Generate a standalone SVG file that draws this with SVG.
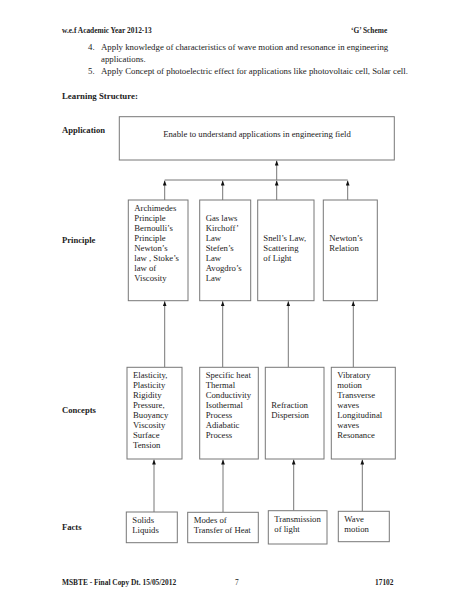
<svg xmlns="http://www.w3.org/2000/svg" width="474" height="613" viewBox="0 0 474 613">
<defs>
<marker id="ah" viewBox="0 0 8 6" refX="8" refY="3" markerWidth="5" markerHeight="4" orient="auto" markerUnits="userSpaceOnUse">
<path d="M0,0 L8,3 L0,6 Z" fill="#111"/>
</marker>
</defs>
<style>
text{font-family:"Liberation Serif","Times New Roman",serif;fill:#222;}
.b{font-weight:bold;}
.hd{font-size:7.4px;}
.body{font-size:8.8px;}
.lab{font-size:8.6px;font-weight:bold;}
.t{font-size:8.7px;}
.box{fill:#fff;stroke:#777;stroke-width:1;}
.ln{stroke:#777;stroke-width:1;fill:none;}
.ar{stroke:#777;stroke-width:1;fill:none;marker-end:url(#ah);}
</style>
<rect width="474" height="613" fill="#fff"/>
<g id="header">
<text class="hd b" x="62" y="33">w.e.f Academic Year 2012-13</text>
<text class="hd b" x="351" y="33">‘G’ Scheme</text>
<text class="body" x="88" y="50">4.</text>
<text class="body" x="101" y="50">Apply knowledge of characteristics of wave motion and resonance in engineering</text>
<text class="body" x="101" y="62">applications.</text>
<text class="body" x="88" y="74">5.</text>
<text class="body" x="101" y="74">Apply Concept of photoelectric effect for applications like photovoltaic cell, Solar cell.</text>
<text class="body b" x="62" y="99">Learning Structure:</text>
</g>
<g id="labels">
<text class="lab" x="62" y="133">Application</text>
<text class="lab" x="62" y="243">Principle</text>
<text class="lab" x="62" y="413">Concepts</text>
<text class="lab" x="62" y="530">Facts</text>
</g>
<g id="connectors">
<line class="ar" x1="276.7" y1="180" x2="276.7" y2="160.5"/>
<line class="ln" x1="164.7" y1="180" x2="347.7" y2="180"/>
<line class="ar" x1="164.7" y1="200" x2="164.7" y2="180.5"/>
<line class="ar" x1="222.7" y1="200" x2="222.7" y2="180.5"/>
<line class="ar" x1="276.7" y1="200" x2="276.7" y2="180.5"/>
<line class="ar" x1="347.7" y1="200" x2="347.7" y2="180.5"/>
<line class="ar" x1="164.7" y1="367" x2="164.7" y2="301.2"/>
<line class="ar" x1="222.7" y1="367" x2="222.7" y2="301.2"/>
<line class="ar" x1="288.3" y1="367" x2="288.3" y2="301.2"/>
<line class="ar" x1="353.3" y1="367" x2="353.3" y2="301.2"/>
<line class="ar" x1="154" y1="512" x2="154" y2="459.5"/>
<line class="ar" x1="223" y1="512" x2="223" y2="459.5"/>
<line class="ar" x1="293.7" y1="510.7" x2="293.7" y2="459.5"/>
<line class="ar" x1="362.3" y1="511.3" x2="362.3" y2="459.5"/>
</g>
<g id="app">
<rect class="box" x="119.3" y="116.7" width="275" height="43.3"/>
<text class="t" x="257" y="137" text-anchor="middle">Enable to understand applications in engineering field</text>
</g>
<g id="p1">
<rect class="box" x="128.3" y="200" width="59.7" height="100.7"/>
<text class="t" x="134.3" y="210.7">Archimedes</text>
<text class="t" x="134.3" y="220.7">Principle</text>
<text class="t" x="134.3" y="230.7">Bernoulli’s</text>
<text class="t" x="134.3" y="240.7">Principle</text>
<text class="t" x="134.3" y="250.7">Newton’s</text>
<text class="t" x="134.3" y="260.7">law , Stoke’s</text>
<text class="t" x="134.3" y="270.7">law of</text>
<text class="t" x="134.3" y="280.7">Viscosity</text>
</g>
<g id="p2">
<rect class="box" x="199.7" y="200" width="51" height="100.7"/>
<text class="t" x="205.7" y="220.7">Gas laws</text>
<text class="t" x="205.7" y="230.7">Kirchoff’</text>
<text class="t" x="205.7" y="240.7">Law</text>
<text class="t" x="205.7" y="250.7">Stefen’s</text>
<text class="t" x="205.7" y="260.7">Law</text>
<text class="t" x="205.7" y="270.7">Avogdro’s</text>
<text class="t" x="205.7" y="280.7">Law</text>
</g>
<g id="p3">
<rect class="box" x="257.7" y="200" width="56.3" height="100.7"/>
<text class="t" x="263.3" y="240.7">Snell’s Law,</text>
<text class="t" x="263.3" y="250.7">Scattering</text>
<text class="t" x="263.3" y="260.7">of Light</text>
</g>
<g id="p4">
<rect class="box" x="323.3" y="200" width="54" height="100.7"/>
<text class="t" x="329.3" y="240.7">Newton’s</text>
<text class="t" x="329.3" y="250.7">Relation</text>
</g>
<g id="c1">
<rect class="box" x="127" y="367.3" width="55" height="91.7"/>
<text class="t" x="133" y="378.3">Elasticity,</text>
<text class="t" x="133" y="388.3">Plasticity</text>
<text class="t" x="133" y="398.3">Rigidity</text>
<text class="t" x="133" y="408.3">Pressure,</text>
<text class="t" x="133" y="418.3">Buoyancy</text>
<text class="t" x="133" y="428.3">Viscosity</text>
<text class="t" x="133" y="438.3">Surface</text>
<text class="t" x="133" y="448.3">Tension</text>
</g>
<g id="c2">
<rect class="box" x="199.7" y="367.3" width="58.6" height="91.7"/>
<text class="t" x="205.7" y="378.3">Specific heat</text>
<text class="t" x="205.7" y="388.3">Thermal</text>
<text class="t" x="205.7" y="398.3">Conductivity</text>
<text class="t" x="205.7" y="408.3">Isothermal</text>
<text class="t" x="205.7" y="418.3">Process</text>
<text class="t" x="205.7" y="428.3">Adiabatic</text>
<text class="t" x="205.7" y="438.3">Process</text>
</g>
<g id="c3">
<rect class="box" x="265.3" y="367.3" width="58.7" height="91.7"/>
<text class="t" x="271.3" y="408.3">Refraction</text>
<text class="t" x="271.3" y="418.3">Dispersion</text>
</g>
<g id="c4">
<rect class="box" x="331.3" y="367.3" width="64" height="91.7"/>
<text class="t" x="337.3" y="378.3">Vibratory</text>
<text class="t" x="337.3" y="388.3">motion</text>
<text class="t" x="337.3" y="398.3">Transverse</text>
<text class="t" x="337.3" y="408.3">waves</text>
<text class="t" x="337.3" y="418.3">Longitudinal</text>
<text class="t" x="337.3" y="428.3">waves</text>
<text class="t" x="337.3" y="438.3">Resonance</text>
</g>
<g id="f1">
<rect class="box" x="126.3" y="512" width="51" height="30.7"/>
<text class="t" x="132.3" y="522.7">Solids</text>
<text class="t" x="132.3" y="532.7">Liquids</text>
</g>
<g id="f2">
<rect class="box" x="187.7" y="512.3" width="70.6" height="30.4"/>
<text class="t" x="193.7" y="523.3">Modes of</text>
<text class="t" x="193.7" y="533.3">Transfer of Heat</text>
</g>
<g id="f3">
<rect class="box" x="268.3" y="510.7" width="58.7" height="33.3"/>
<text class="t" x="274.3" y="521.7">Transmission</text>
<text class="t" x="274.3" y="531.7">of light</text>
</g>
<g id="f4">
<rect class="box" x="338.3" y="511.3" width="51" height="30.4"/>
<text class="t" x="344.3" y="521.7">Wave</text>
<text class="t" x="344.3" y="531.7">motion</text>
</g>
<g id="footer">
<text class="hd b" x="62" y="585">MSBTE - Final Copy Dt. 15/05/2012</text>
<text class="hd" x="235" y="585">7</text>
<text class="hd b" x="375" y="585">17102</text>
</g>
</svg>
